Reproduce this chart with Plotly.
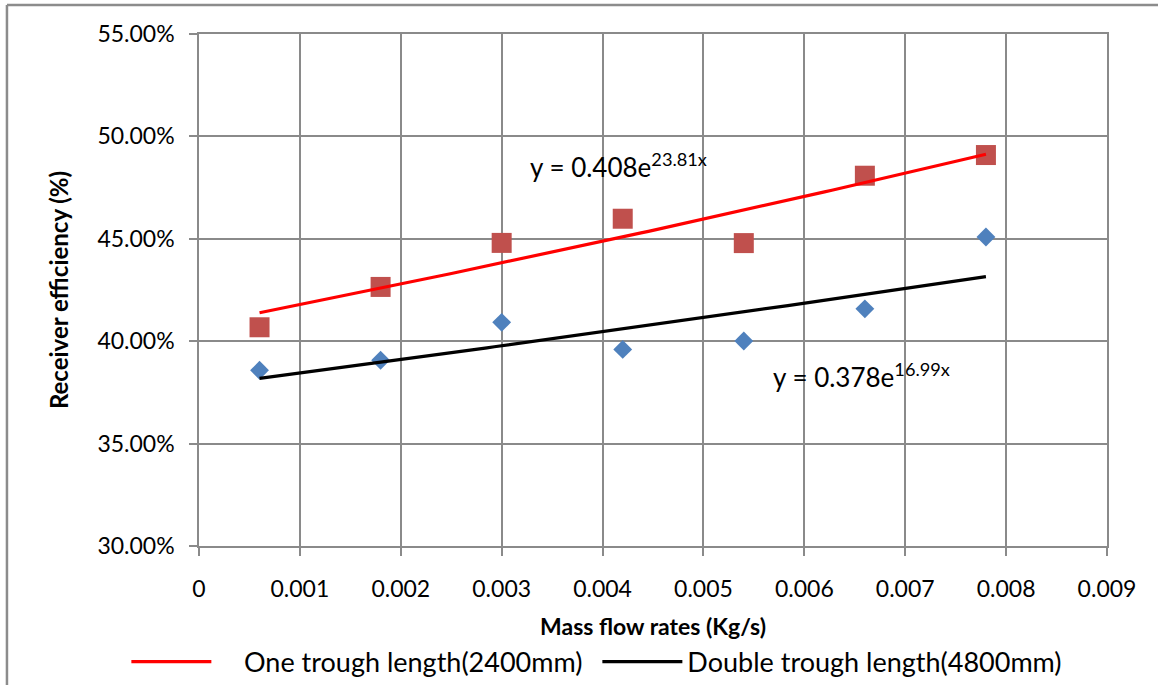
import numpy as np
import plotly.graph_objects as go

# Mass flow rate (kg/s)
mass_flow = [0.0006, 0.0018, 0.0030, 0.0042, 0.0054, 0.0066, 0.0078]

# Receiver efficiency (fraction)
eff_one_trough = [0.4068, 0.4265, 0.4480, 0.4598, 0.4479, 0.4808, 0.4909]
eff_double_trough = [0.3858, 0.3907, 0.4092, 0.3960, 0.4001, 0.4158, 0.4509]

# Exponential fit coefficients: y = a * exp(b * x)
fit_one = (0.408, 23.81)
fit_double = (0.378, 16.99)

legend_names = ["One trough length(2400mm)", "Double trough length(4800mm)"]

x_tick_values = [0, 0.001, 0.002, 0.003, 0.004, 0.005, 0.006, 0.007, 0.008, 0.009]
x_tick_labels = ["0", "0.001", "0.002", "0.003", "0.004", "0.005", "0.006", "0.007", "0.008", "0.009"]

font_family = "Lato, 'Noto Sans', sans-serif"
grid_color = "#8a8a8a"
legend_pad = "&nbsp;" * 4  # extra gap after the first legend line sample

x_fit = np.linspace(min(mass_flow), max(mass_flow), 100)
y_fit_one = fit_one[0] * np.exp(fit_one[1] * x_fit)
y_fit_double = fit_double[0] * np.exp(fit_double[1] * x_fit)

fig = go.Figure()

fig.add_trace(go.Scatter(
    x=mass_flow, y=eff_double_trough, mode="markers",
    marker=dict(symbol="diamond", size=14.5, color="#4F81BD"),
    showlegend=False, hoverinfo="x+y",
))
fig.add_trace(go.Scatter(
    x=mass_flow, y=eff_one_trough, mode="markers",
    marker=dict(symbol="square", size=20, color="#C0504D"),
    showlegend=False, hoverinfo="x+y",
))
fig.add_trace(go.Scatter(
    x=x_fit, y=y_fit_one, mode="lines",
    line=dict(color="#FF0000", width=3.2),
    name=legend_pad + legend_names[0],
))
fig.add_trace(go.Scatter(
    x=x_fit, y=y_fit_double, mode="lines",
    line=dict(color="#000000", width=3.2),
    name=legend_names[1],
))

fig.add_annotation(
    x=0.00326, y=0.486, xref="x", yref="y",
    text=f"y = {fit_one[0]}e<sup>{fit_one[1]}x</sup>",
    showarrow=False, xanchor="left", yanchor="middle",
    font=dict(family=font_family, size=26, color="#000000"),
)
fig.add_annotation(
    x=0.00567, y=0.3833, xref="x", yref="y",
    text=f"y = {fit_double[0]}e<sup>{fit_double[1]}x</sup>",
    showarrow=False, xanchor="left", yanchor="middle",
    font=dict(family=font_family, size=26, color="#000000"),
)

# Outer chart frame (top and left edges)
frame = dict(color="#8c8c8c", width=2.5)
fig.add_shape(type="line", xref="paper", yref="paper",
              x0=-0.2115, y0=1.0566, x1=1.06, y1=1.0566, line=frame)
fig.add_shape(type="line", xref="paper", yref="paper",
              x0=-0.2115, y0=1.0566, x1=-0.2115, y1=-0.28, line=frame)

fig.update_layout(
    width=1158, height=685,
    margin=dict(l=199, r=51, t=34, b=139, autoexpand=False),
    paper_bgcolor="white", plot_bgcolor="white",
    font=dict(family=font_family, size=23, color="#000000"),
    legend=dict(
        orientation="h", x=-0.08, xanchor="left", y=-0.2266, yanchor="middle",
        font=dict(size=27), itemwidth=80, entrywidth=376, entrywidthmode="pixels",
        bgcolor="rgba(0,0,0,0)",
    ),
    showlegend=True,
)

fig.update_xaxes(
    range=[0, 0.009], tickmode="array", tickvals=x_tick_values, ticktext=x_tick_labels,
    tickangle=0, automargin=False,
    showgrid=True, gridcolor=grid_color, gridwidth=1.5,
    showline=True, linecolor=grid_color, linewidth=1.5, mirror=True,
    ticks="outside", ticklen=8, tickcolor=grid_color, tickwidth=1.5,
    ticklabelstandoff=14, zeroline=False,
    title=dict(text="<b>Mass flow rates (Kg/s)</b>", standoff=18,
               font=dict(size=23)),
)
fig.update_yaxes(
    range=[0.30, 0.55], dtick=0.05, tick0=0.30, tickformat=".2%",
    automargin=False,
    showgrid=True, gridcolor=grid_color, gridwidth=1.5,
    showline=True, linecolor=grid_color, linewidth=1.5, mirror=True,
    ticks="outside", ticklen=8, tickcolor=grid_color, tickwidth=1.5,
    ticklabelstandoff=10, zeroline=False,
    title=dict(text="<b>Receiver efficiency (%)</b>", standoff=22,
               font=dict(size=24)),
)

fig.write_html("out.html")
